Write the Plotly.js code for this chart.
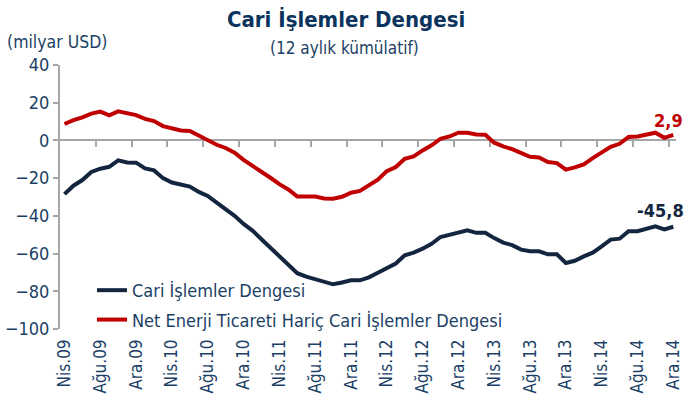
<!DOCTYPE html>
<html>
<head>
<meta charset="utf-8">
<script src="https://cdn.plot.ly/plotly-3.0.1.min.js"></script>
<style>html,body{margin:0;padding:0;background:#fff;}#chart{width:684px;height:405px;}</style>
</head>
<body>
<div id="chart"></div>
<script>
// Tick labels (every 4th month, Nis.09 .. Ara.14)
const tickLabels = ['Nis.09','Ağu.09','Ara.09','Nis.10','Ağu.10','Ara.10','Nis.11','Ağu.11','Ara.11','Nis.12','Ağu.12','Ara.12','Nis.13','Ağu.13','Ara.13','Nis.14','Ağu.14','Ara.14'];

// Series values, billion USD, monthly Apr 2009 - Dec 2014 (69 months)
const cariIslemler = [-28.5,-24.0,-21.0,-16.7,-15.0,-14.0,-10.6,-11.7,-11.8,-14.8,-15.9,-20.0,-22.3,-23.5,-24.5,-27.3,-29.4,-33.0,-36.3,-40.0,-44.3,-47.8,-52.4,-57.0,-61.5,-66.4,-70.4,-72.2,-73.6,-75.2,-76.3,-75.3,-74.2,-74.2,-72.6,-70.2,-67.5,-65.3,-60.9,-59.5,-57.4,-54.8,-51.2,-50.2,-48.8,-47.7,-49.0,-49.0,-51.8,-54.2,-55.5,-57.9,-58.8,-58.8,-60.4,-60.4,-65.0,-63.8,-61.5,-59.5,-56.2,-52.6,-52.1,-48.1,-48.1,-46.8,-45.6,-47.2,-45.8];
const enerjiHaric = [8.7,10.8,12.2,14.2,15.3,13.3,15.4,14.6,13.4,11.4,10.3,7.6,6.4,5.3,5.0,2.4,0.0,-2.3,-4.0,-6.5,-10.3,-13.3,-16.2,-19.8,-23.2,-26.0,-29.8,-29.8,-29.8,-30.8,-30.9,-29.9,-27.7,-26.8,-24.0,-20.8,-16.3,-14.1,-9.7,-8.5,-5.3,-2.6,0.9,2.1,4.1,4.1,3.2,3.0,-1.2,-3.2,-4.6,-6.7,-8.7,-9.0,-11.5,-12.0,-15.5,-14.3,-12.7,-9.4,-6.2,-3.4,-1.8,1.8,2.1,3.2,4.1,1.4,2.9];

const seriesNames = ['Cari İşlemler Dengesi','Net Enerji Ticareti Hariç Cari İşlemler Dengesi'];

const idx = cariIslemler.map((_, i) => i);
const tickPos = tickLabels.map((_, k) => k * 4);
const boundaryTicks = tickLabels.slice(1).map((_, k) => k * 4 + 3.5);

const NAVY = '#14263F', RED = '#C00000', TXT = '#1B3F66', GRID = '#A6A6A6';
const FONT = '"DejaVu Sans Condensed", "Liberation Sans Narrow", sans-serif';
const fmt = v => v.toFixed(1).replace('.', ',');

const last = idx.length - 1;
const xRange = [-0.5, 68.3];
const PW = 684 - 60 - 8;

const traces = [
  {x: idx, y: cariIslemler, type: 'scatter', mode: 'lines', name: seriesNames[0],
   line: {color: NAVY, width: 4}, legendgroup: 'a', hoverinfo: 'skip'},
  {x: idx, y: enerjiHaric, type: 'scatter', mode: 'lines', name: seriesNames[1],
   line: {color: RED, width: 4}, legendgroup: 'b', hoverinfo: 'skip'},
  {x: [], y: [], xaxis: 'x2', yaxis: 'y', showlegend: false, hoverinfo: 'skip', type: 'scatter', mode: 'lines'}
];

const layout = {
  width: 684, height: 405,
  margin: {l: 60, r: 8, t: 65, b: 76},
  paper_bgcolor: '#fff', plot_bgcolor: '#fff',
  showlegend: true,
  font: {family: FONT, color: TXT, size: 16},
  title: {text: '<b>Cari İşlemler Dengesi</b>', font: {family: FONT, size: 22, color: '#0B335E'},
          x: 0.506, xanchor: 'center', y: 0.953, yanchor: 'middle', xref: 'container', yref: 'container'},
  xaxis: {range: xRange, tickvals: tickPos, ticktext: tickLabels, tickangle: -90,
          showline: false, showgrid: false, zeroline: false, ticks: '',
          ticklabelstandoff: 6, ticklabelshift: 0, ticklabeloverflow: 'allow',
          tickfont: {family: FONT, size: 17, color: TXT}, fixedrange: true},
  xaxis2: {overlaying: 'x', anchor: 'free', position: 100 / 140, side: 'bottom', range: xRange,
           showline: true, linecolor: GRID, linewidth: 2, ticks: 'outside', ticklen: 6, tickwidth: 2,
           tickcolor: GRID, tickvals: boundaryTicks, showticklabels: false, showgrid: false,
           zeroline: false, layer: 'below traces'},
  yaxis: {range: [-100, 40], dtick: 20, tick0: 0, showgrid: false, zeroline: false,
          showline: true, linecolor: GRID, linewidth: 2, ticks: 'outside', ticklen: 5, tickwidth: 2,
          tickcolor: GRID, tickfont: {family: FONT, size: 18, color: TXT}, layer: 'below traces'},
  legend: {x: (92 - 60) / PW, xanchor: 'left', y: 0.216, yanchor: 'top', bgcolor: 'rgba(0,0,0,0)',
           font: {family: FONT, size: 18, color: TXT}, tracegroupgap: 3, itemwidth: 30},
  annotations: [
    {text: '(12 aylık kümülatif)', xref: 'paper', yref: 'paper', x: (344 - 60) / PW, y: (329 - 48) / 264,
     xanchor: 'center', yanchor: 'middle', showarrow: false, font: {family: FONT, size: 17, color: TXT}},
    {text: '(milyar USD)', xref: 'paper', yref: 'paper', x: (5 - 60) / PW, y: (329 - 42) / 264,
     xanchor: 'left', yanchor: 'middle', showarrow: false, font: {family: FONT, size: 17.5, color: TXT}},
    {text: '<b>' + fmt(enerjiHaric[last]) + '</b>', x: last, y: enerjiHaric[last], xref: 'x', yref: 'y',
     showarrow: false, xanchor: 'center', yanchor: 'middle', xshift: -5, yshift: 14,
     font: {family: FONT, size: 18, color: RED}},
    {text: '<b>' + fmt(cariIslemler[last]) + '</b>', x: last, y: cariIslemler[last], xref: 'x', yref: 'y',
     showarrow: false, xanchor: 'center', yanchor: 'middle', xshift: -13, yshift: 16,
     font: {family: FONT, size: 18, color: NAVY}}
  ]
};

Plotly.newPlot('chart', traces, layout, {displayModeBar: false, staticPlot: true});
</script>
</body>
</html>
